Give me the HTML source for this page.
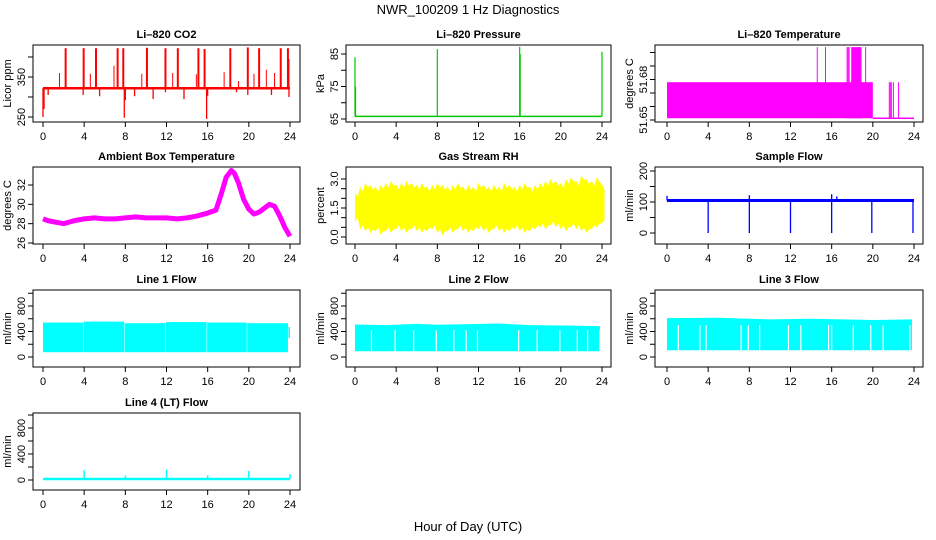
<!DOCTYPE html>
<html><head><meta charset="utf-8"><style>
body{margin:0;background:#fff}
svg{display:block;font-family:"Liberation Sans",sans-serif}
</style></head><body>
<svg id="c" width="936" height="540" viewBox="0 0 936 540">
<text x="468" y="14" text-anchor="middle" font-size="13">NWR_100209  1 Hz Diagnostics</text>
<text x="468" y="531" text-anchor="middle" font-size="13">Hour of Day (UTC)</text>
</svg>
<script>
// ---- data ----
const xTicks=[0,4,8,12,16,20,24];
const co2Base=322;
const co2SpikeHours=[2.2,3.95,5.15,7.25,7.8,10.1,11.9,13.1,15.1,15.7,18.2,19.9,21.0,23.1,23.8];
const co2SpikeTops=[422,422,422,422,422,423,422,422,422,420,422,424,422,422,422];
const co2MidHours=[1.6,4.6,6.9,9.6,12.6,14.9,17.6,19.0,20.5,21.7,22.5,23.9];
const co2MidTops=[360,358,378,358,360,357,362,340,358,368,360,395];
const co2DownHours=[0.0,0.1,0.5,3.9,5.5,7.9,8.0,8.9,10.7,11.9,13.7,15.9,16.0,18.8,19.9,22.2,23.9];
const co2DownLows=[250,270,305,305,302,248,292,302,295,312,295,245,303,312,305,305,300];
const pressBase=65.8;
const pressSpikeHours=[0.0,0.05,8.0,16.0,16.05,24.0];
const pressSpikeTops=[84,75,86.5,87.2,85,85.7];
const tempLow=51.6513, tempMid=51.678, tempHigh=51.704;
const tempFillEnd=20;
const tempHighHours=[14.6,15.4,17.5,17.6,17.7,19.3];
const tempBlock=[17.9,18.9];
const tempLateHours=[21.6,21.7,21.8,22.0,22.5];
const ambHours=[0,0.5,1,1.5,2,3,4,5,6,7,8,9,10,11,12,13,14,15,16,16.8,17.3,17.8,18.3,18.6,19,19.5,20,20.5,21,21.5,22,22.5,23,23.5,24];
const ambVals=[28.5,28.3,28.2,28.1,28.0,28.3,28.5,28.6,28.5,28.5,28.6,28.7,28.6,28.6,28.6,28.5,28.6,28.8,29.1,29.4,31.0,32.8,33.5,33.2,32.2,30.5,29.5,29.0,29.2,29.6,30.0,29.8,28.8,27.6,26.7];
const rhHi=[2.3,2.6,2.8,2.7,2.6,2.7,2.8,2.9,2.7,2.8,2.9,2.8,2.7,2.8,2.6,2.7,2.8,2.7,2.6,2.7,2.8,2.6,2.7,2.6,2.8,2.7,2.6,2.7,2.6,2.8,2.7,2.6,2.7,2.8,2.6,2.7,2.8,2.9,3.0,2.9,2.8,3.0,3.1,2.9,3.2,3.0,2.9,3.1,2.7];
const rhLo=[0.8,0.4,0.3,0.2,0.3,0.1,0.3,0.2,0.4,0.3,0.2,0.4,0.3,0.2,0.3,0.4,0.2,0.1,0.3,0.2,0.4,0.3,0.2,0.3,0.4,0.3,0.2,0.4,0.3,0.2,0.3,0.4,0.3,0.2,0.3,0.4,0.5,0.4,0.6,0.5,0.4,0.3,0.5,0.4,0.3,0.2,0.4,0.5,0.7];
const flowBase=105;
const flowDropHours=[4.0,8.0,12.0,16.0,19.9,23.9];
const flowSpikeHours=[0.0,8.0,16.0,16.5];
const flowSpikeTops=[120,122,125,118];
const l1SegStarts=[0,3.95,7.95,11.95,15.95,19.85];
const l1SegEnds=[3.9,7.9,11.9,15.9,19.8,23.8];
const l1Tops=[540,555,530,548,540,530];
const l1Bottom=75;
const l2Tops=[510,500,520,505,515,525,500,495,485];
const l2TopHours=[0,3,6,8,11,14,17,20,23.8];
const l2Bottom=90;
const l2Gaps=[1.6,3.9,5.7,7.9,9.6,10.8,11.9,15.9,17.7,19.9,21.6,22.6,23.8];
const l3Tops=[610,615,600,590,600,590,580,590];
const l3TopHours=[0,5,8,10,14,17,20,23.8];
const l3Bottom=105;
const l3Gaps=[1.1,3.2,3.8,7.2,7.9,9.0,11.8,13.0,15.7,16.0,18.1,19.8,21.0,23.6];
const l4Base=15;
const l4SpikeHours=[4.0,8.0,12.0,16.0,20.0,24.0];
const l4SpikeTops=[150,70,160,70,140,90];

// ---- layout ----
const NS="http://www.w3.org/2000/svg";
const svg=document.getElementById('c');
function el(tag,attrs,parent){const e=document.createElementNS(NS,tag);for(const k in attrs)e.setAttribute(k,attrs[k]);(parent||svg).appendChild(e);return e;}
const cols=[{l:33,r:300,x0:43,x24:290},{l:346,r:611,x0:355,x24:602},{l:655,r:923,x0:667,x24:914}];
const rows=[45,167,290,413];
const H=77;
function makePanel(name,title,ylab,col,row,ya,pa,yb,pb,ticks,labels){
  const c=cols[col],top=rows[row],bot=top+H;
  const g=el('g',{});
  
  
  const X=h=>c.x0+(h/24)*(c.x24-c.x0);
  const Y=v=>top+pa+(v-ya)/(yb-ya)*(pb-pa);
  const t=el('text',{x:(c.l+c.r)/2,y:top-7,'text-anchor':'middle','font-size':11,'font-weight':'bold'},g);
  t.textContent=title;
  
  
  const data=el('g',{},g);
  
  
  const box=el('rect',{x:c.l,y:top,width:c.r-c.l,height:H,fill:'none',stroke:'#000','stroke-width':1},g);
  
  
  xTicks.forEach(h=>{
    el('line',{x1:X(h),x2:X(h),y1:bot,y2:bot+5,stroke:'#000'},g);
    const tl=el('text',{x:X(h),y:bot+18,'text-anchor':'middle','font-size':11},g);
    tl.textContent=h;
    
    
  });
  ticks.forEach((v,i)=>{
    el('line',{x1:c.l-5,x2:c.l,y1:Y(v),y2:Y(v),stroke:'#000'},g);
    if(labels[i]!==''){
      const tx=c.l-8;
      const tl=el('text',{x:tx,y:Y(v),'text-anchor':'middle','font-size':11,transform:`rotate(-90 ${tx} ${Y(v)})`},g);
      tl.textContent=labels[i];
      
      
    }
  });
  const ax=c.l-22;
  const yt=el('text',{x:ax,y:top+H/2,'text-anchor':'middle','font-size':11,transform:`rotate(-90 ${ax} ${top+H/2})`},g);
  yt.textContent=ylab;
  
  
  return {X,Y,g:data};
}
function vline(p,h,v1,v2,color,w){return el('line',{x1:p.X(h),x2:p.X(h),y1:p.Y(v1),y2:p.Y(v2),stroke:color,'stroke-width':w},p.g);}

// CO2
let p=makePanel('co2-panel','Li\u2013820 CO2','Licor ppm',0,0,250,72,400,12,[250,300,350,400],['250','','350','']);
el('line',{x1:p.X(0),x2:p.X(24),y1:p.Y(co2Base),y2:p.Y(co2Base),stroke:'#f00','stroke-width':2.5},p.g);
co2SpikeHours.forEach((h,i)=>vline(p,h,co2Base,co2SpikeTops[i],'#f00',2));
co2MidHours.forEach((h,i)=>vline(p,h,co2Base,co2MidTops[i],'#f00',1));
co2DownHours.forEach((h,i)=>vline(p,h,co2Base,co2DownLows[i],'#f00',1.3));

// Pressure
p=makePanel('pressure-panel','Li\u2013820 Pressure','kPa',1,0,65,74,85,9,[65,70,75,80,85],['65','','75','','85']);
el('line',{x1:p.X(0),x2:p.X(24),y1:p.Y(pressBase),y2:p.Y(pressBase),stroke:'#00c800','stroke-width':1.5},p.g);
pressSpikeHours.forEach((h,i)=>vline(p,h,pressBase,pressSpikeTops[i],'#00c800',1.2));

// Temperature
p=makePanel('li820-temperature-panel','Li\u2013820 Temperature','degrees C',2,0,51.65,75,51.70,7.5,[51.65,51.66,51.67,51.68,51.69,51.70],['51.65','','','51.68','','']);
el('rect',{x:p.X(0),y:p.Y(tempMid),width:p.X(tempFillEnd)-p.X(0),height:p.Y(tempLow)-p.Y(tempMid),fill:'#f0f'},p.g);
el('line',{x1:p.X(tempFillEnd),x2:p.X(24),y1:p.Y(tempLow),y2:p.Y(tempLow),stroke:'#f0f','stroke-width':1.5},p.g);
tempHighHours.forEach(h=>vline(p,h,tempLow,tempHigh,'#f0f',1));
el('rect',{x:p.X(tempBlock[0]),y:p.Y(tempHigh),width:p.X(tempBlock[1])-p.X(tempBlock[0]),height:p.Y(tempLow)-p.Y(tempHigh),fill:'#f0f'},p.g);
tempLateHours.forEach(h=>vline(p,h,tempLow,tempMid,'#f0f',1));

// Ambient
p=makePanel('ambient-temperature-panel','Ambient Box Temperature','degrees C',0,1,26,76,32,18,[26,28,30,32],['26','28','30','32']);
el('polyline',{points:ambHours.map((h,i)=>p.X(h)+','+p.Y(ambVals[i])).join(' '),fill:'none',stroke:'#f0f','stroke-width':5,'stroke-linejoin':'round'},p.g);

// RH
p=makePanel('gas-stream-rh-panel','Gas Stream RH','percent',1,1,0,70,3,12,[0,0.5,1,1.5,2,2.5,3],['0.0','','','1.5','','','3.0']);
{let pts=[];rhHi.forEach((v,i)=>{pts.push(p.X(i*0.5)+','+p.Y(v));pts.push(p.X(i*0.5+0.25)+','+p.Y(v-0.25));});
for(let i=rhLo.length-1;i>=0;i--){pts.push(p.X(i*0.5+0.25)+','+p.Y(rhLo[i]+0.2));pts.push(p.X(i*0.5)+','+p.Y(rhLo[i]));}
el('polygon',{points:pts.join(' '),fill:'#ff0'},p.g);}

// Sample flow
p=makePanel('sample-flow-panel','Sample Flow','ml/min',2,1,0,66,200,4,[0,50,100,150,200],['0','','100','','200']);
el('line',{x1:p.X(0),x2:p.X(24),y1:p.Y(flowBase),y2:p.Y(flowBase),stroke:'#00f','stroke-width':3},p.g);
flowDropHours.forEach(h=>vline(p,h,flowBase,0,'#00f',1.3));
flowSpikeHours.forEach((h,i)=>vline(p,h,flowBase,flowSpikeTops[i],'#00f',1.3));

const lt=[0,200,400,600,800,1000],ll=['0','','400','','800',''];
// Line 1
p=makePanel('line1-flow-panel','Line 1 Flow','ml/min',0,2,0,67,800,16,lt,ll);
l1SegStarts.forEach((s,i)=>el('rect',{x:p.X(s),y:p.Y(l1Tops[i]),width:p.X(l1SegEnds[i])-p.X(s),height:p.Y(l1Bottom)-p.Y(l1Tops[i]),fill:'#0ff'},p.g));
el('rect',{x:p.X(23.85),y:p.Y(470),width:p.X(24)-p.X(23.85),height:p.Y(300)-p.Y(470),fill:'#0ff'},p.g);
// Line 2
function band(p,hours,tops,bottom,gaps,gapTop){
  const pts=hours.map((h,i)=>p.X(h)+','+p.Y(tops[i]));
  pts.push(p.X(hours[hours.length-1])+','+p.Y(bottom));pts.push(p.X(hours[0])+','+p.Y(bottom));
  el('polygon',{points:pts.join(' '),fill:'#0ff'},p.g);
  gaps.forEach(h=>vline(p,h,bottom-5,gapTop,'#fff',1.2));
}
p=makePanel('line2-flow-panel','Line 2 Flow','ml/min',1,2,0,67,800,16,lt,ll);
band(p,l2TopHours,l2Tops,l2Bottom,l2Gaps,420);
p=makePanel('line3-flow-panel','Line 3 Flow','ml/min',2,2,0,67,800,16,lt,ll);
band(p,l3TopHours,l3Tops,l3Bottom,l3Gaps,500);
// Line 4
p=makePanel('line4-flow-panel','Line 4 (LT) Flow','ml/min',0,3,0,67,800,15,lt,ll);
el('line',{x1:p.X(0),x2:p.X(24),y1:p.Y(l4Base),y2:p.Y(l4Base),stroke:'#0ff','stroke-width':2.5},p.g);
l4SpikeHours.forEach((h,i)=>vline(p,h,l4Base,l4SpikeTops[i],'#0ff',1.5));
</script>
</body></html>
